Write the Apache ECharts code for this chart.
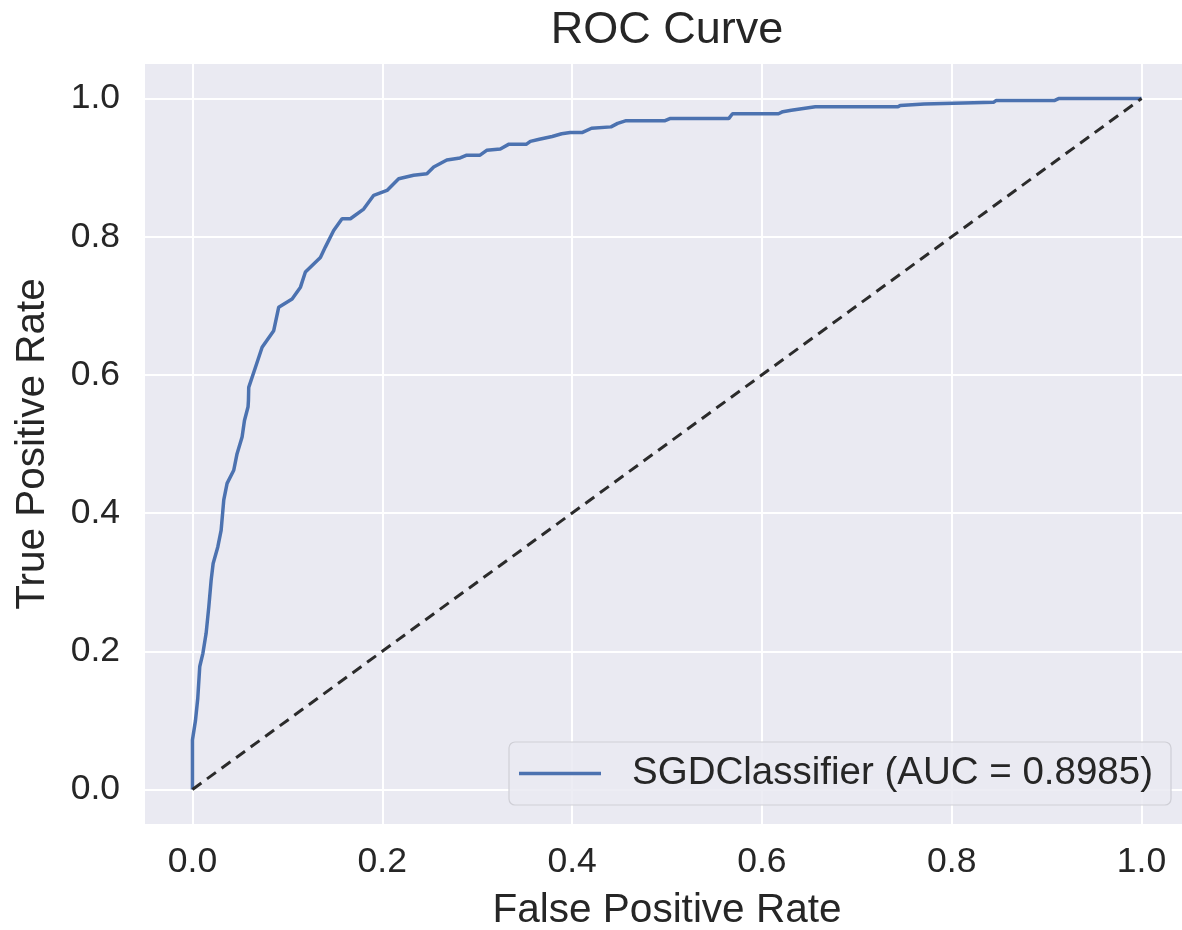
<!DOCTYPE html>
<html>
<head>
<meta charset="utf-8">
<script src="https://cdn.jsdelivr.net/npm/echarts@6/dist/echarts.min.js"></script>
<style>
  html, body { margin: 0; padding: 0; background: #ffffff; }
  #main { width: 1182px; height: 930px; }
</style>
</head>
<body>
<div id="main"></div>
<script>
// ROC points (false positive rate / true positive rate)
var fpr = [0, 0, 0.0032, 0.0056, 0.0077, 0.011, 0.0144, 0.0172, 0.0197, 0.0218,
  0.0267, 0.0302, 0.033, 0.0365, 0.0435, 0.047, 0.0523, 0.0548, 0.0586, 0.059,
  0.0593, 0.0664, 0.0734, 0.0856, 0.0909, 0.105, 0.1138, 0.119, 0.1348, 0.14,
  0.1488, 0.1576, 0.1664, 0.1804, 0.191, 0.205, 0.2173, 0.233, 0.247, 0.2542,
  0.268, 0.282, 0.289, 0.303, 0.310, 0.3244, 0.3335, 0.352, 0.356, 0.3655,
  0.379, 0.389, 0.398, 0.411, 0.4205, 0.441, 0.448, 0.457, 0.498, 0.503,
  0.565, 0.569, 0.6175, 0.622, 0.631, 0.6563, 0.7434, 0.7457, 0.771, 0.773,
  0.844, 0.8466, 0.908, 0.9126, 1.0];
var tpr = [0, 0.0716, 0.10, 0.132, 0.178, 0.197, 0.226, 0.264, 0.303, 0.327,
  0.351, 0.375, 0.419, 0.443, 0.462, 0.486, 0.510, 0.534, 0.554, 0.563,
  0.582, 0.611, 0.640, 0.664, 0.698, 0.710, 0.727, 0.749, 0.770, 0.785,
  0.809, 0.826, 0.826, 0.840, 0.860, 0.867, 0.884, 0.889, 0.891, 0.901,
  0.911, 0.914, 0.918, 0.918, 0.925, 0.927, 0.934, 0.934, 0.938, 0.941,
  0.945, 0.949, 0.951, 0.951, 0.957, 0.959, 0.964, 0.968, 0.968, 0.971,
  0.971, 0.978, 0.978, 0.981, 0.983, 0.988, 0.988, 0.990, 0.992, 0.9945,
  0.9945, 0.997, 0.997, 1.0, 1.0];
var chanceX = [0, 1];
var chanceY = [0, 1];
var tickValues = [0, 0.2, 0.4, 0.6, 0.8, 1.0];
var seriesName = 'SGDClassifier (AUC = 0.8985)';

var textColor = '#262626';
var fontFam = '"Liberation Sans", Arial, sans-serif';

var rocData = fpr.map(function (x, i) { return [x, tpr[i]]; });
var chanceData = chanceX.map(function (x, i) { return [x, chanceY[i]]; });

var myChart = echarts.init(document.getElementById('main'));
var option = {
  backgroundColor: '#ffffff',
  animation: false,
  title: {
    text: 'ROC Curve',
    left: 667,
    textAlign: 'center',
    top: 8,
    padding: 0,
    textStyle: { color: textColor, fontFamily: fontFam, fontSize: 45, fontWeight: 'normal' }
  },
  grid: {
    left: 145,
    top: 64,
    width: 1044,
    height: 760,
    outerBoundsMode: 'none',
    containLabel: false,
    show: true,
    backgroundColor: '#eaeaf2',
    borderWidth: 0
  },
  legend: {
    data: [seriesName],
    left: 509,
    top: 742,
    padding: [12, 18, 12, 10],
    icon: 'rect',
    itemWidth: 82,
    itemHeight: 3.5,
    backgroundColor: 'rgba(234,234,242,0.85)',
    borderColor: '#cfcfd6',
    borderWidth: 1.2,
    borderRadius: 6,
    textStyle: { color: textColor, fontFamily: fontFam, fontSize: 38.5, padding: [0, 0, 0, 26] }
  },
  xAxis: {
    type: 'value',
    min: -0.05,
    max: 1.05,
    name: 'False Positive Rate',
    nameLocation: 'middle',
    nameGap: 66,
    nameTextStyle: { color: textColor, fontFamily: fontFam, fontSize: 40.5 },
    axisLine: { show: false },
    axisTick: { show: false, customValues: tickValues },
    axisLabel: {
      customValues: tickValues,
      margin: 20,
      color: textColor, fontFamily: fontFam, fontSize: 35.5,
      formatter: function (v) { return v.toFixed(1); }
    },
    splitLine: { show: true, lineStyle: { color: '#ffffff', width: 2 } }
  },
  yAxis: {
    type: 'value',
    min: -0.05,
    max: 1.05,
    name: 'True Positive Rate',
    nameLocation: 'middle',
    nameGap: 92,
    nameTextStyle: { color: textColor, fontFamily: fontFam, fontSize: 40.5 },
    axisLine: { show: false },
    axisTick: { show: false, customValues: tickValues },
    axisLabel: {
      customValues: tickValues,
      margin: 25,
      color: textColor, fontFamily: fontFam, fontSize: 35.5,
      formatter: function (v) { return v.toFixed(1); }
    },
    splitLine: { show: true, lineStyle: { color: '#ffffff', width: 2 } }
  },
  series: [
    {
      name: seriesName,
      type: 'line',
      data: rocData,
      symbol: 'none',
      z: 3,
      lineStyle: { color: '#4c72b0', width: 3.5 },
      itemStyle: { color: '#4c72b0' }
    },
    {
      name: 'chance',
      type: 'line',
      data: chanceData,
      symbol: 'none',
      z: 4,
      lineStyle: { color: '#2b2b2b', width: 3, type: [11, 7] },
      itemStyle: { color: '#2b2b2b' }
    }
  ]
};
myChart.setOption(option);
</script>
</body>
</html>
